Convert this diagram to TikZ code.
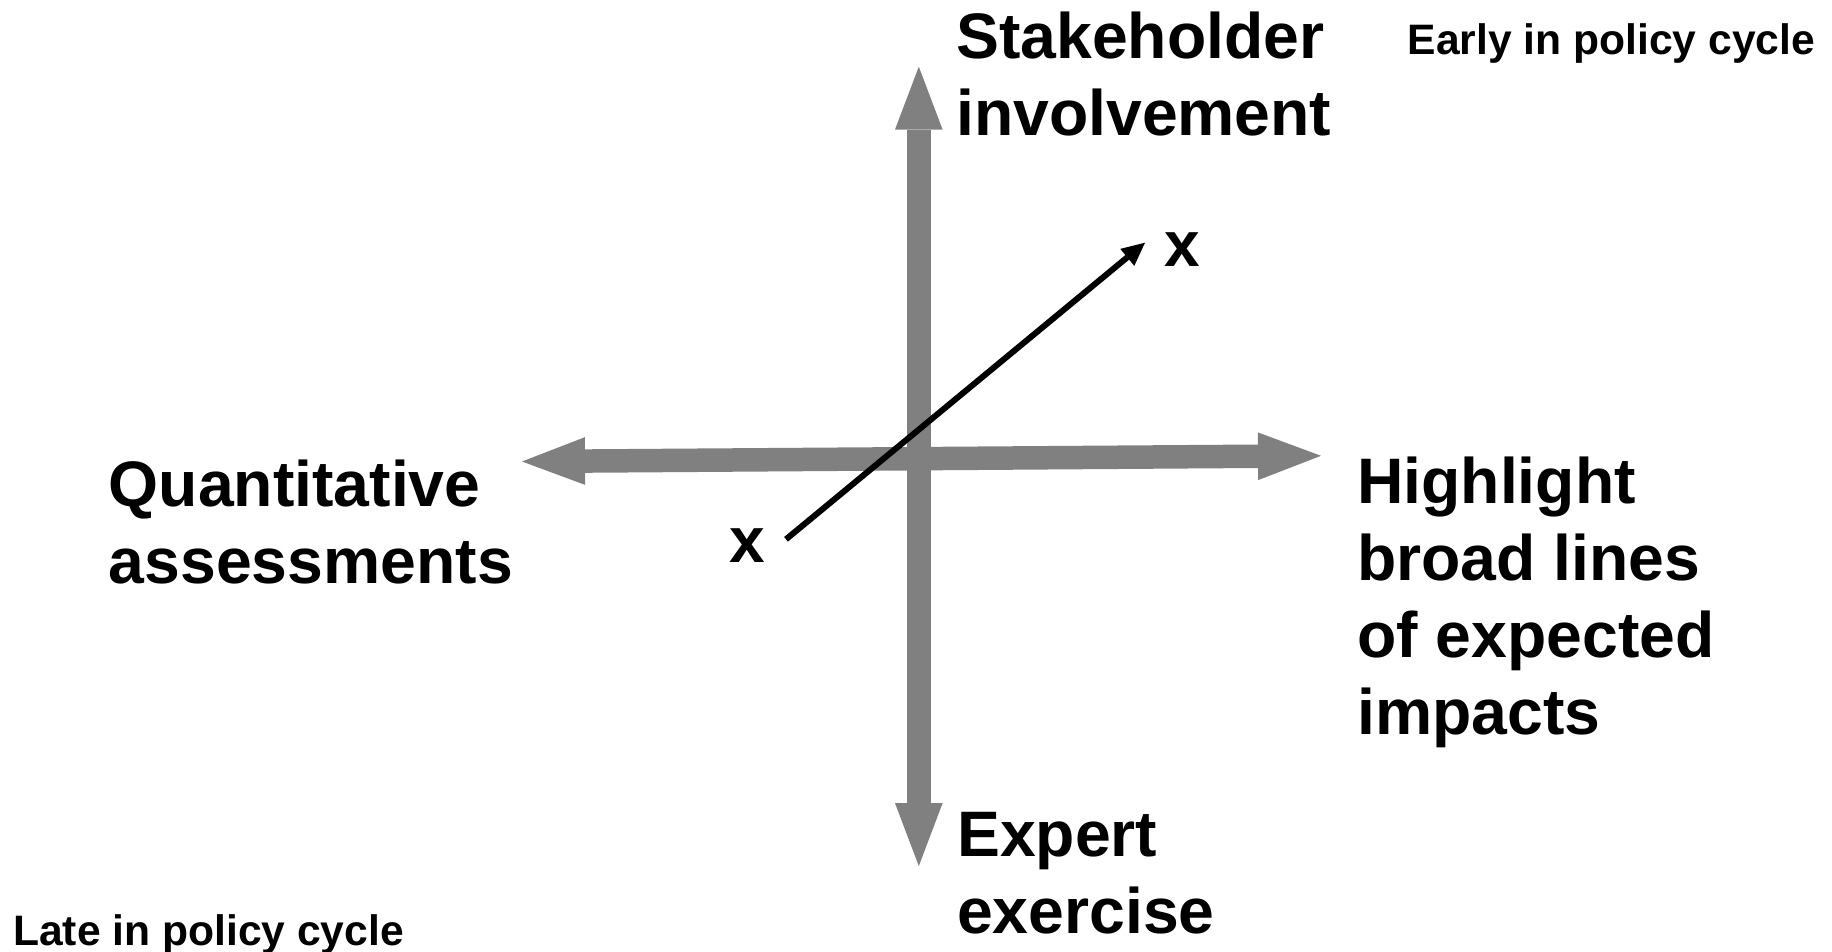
\documentclass[tikz,border=0pt]{standalone}
\usepackage{fontspec}
\setmainfont{Liberation Sans}
\usetikzlibrary{arrows.meta}
\definecolor{axisgray}{RGB}{128,128,128}
\tikzset{
  bigtext/.style={font=\bfseries\fontsize{64.3pt}{77pt}\selectfont, inner sep=0pt, align=left, anchor=base west},
  smalltext/.style={font=\bfseries\fontsize{42.6pt}{50pt}\selectfont, inner sep=0pt, anchor=base west},
  marktext/.style={font=\bfseries\fontsize{64pt}{70pt}\selectfont, inner sep=0pt, anchor=center},
  axisarrow/.style={draw=axisgray, line width=23.5pt,
    {Triangle[length=63pt,width=47.7pt,line width=0pt]}-{Triangle[length=63pt,width=47.7pt,line width=0pt]}},
  movearrow/.style={draw=black, line width=6pt, -{Triangle[length=23pt,width=22pt,line width=0pt]}}
}
\begin{document}
\begin{tikzpicture}[x=1pt,y=-1pt]
\useasboundingbox[fill=white] (0,0) rectangle (1832,952);
\clip (0,0) rectangle (1832,952);
% axis end points
\coordinate (top) at (918.8,66.7);
\coordinate (bottom) at (918.8,866);
\coordinate (left) at (522,461.5);
\coordinate (right) at (1321,455.8);
\draw[axisarrow] (bottom) -- (top);
\draw[axisarrow] (left) -- (right);
% labels (anchor = baseline of the last line)
\node[bigtext] (stake) at (956,136) {Stakeholder\\involvement};
\node[bigtext] (quant) at (108.7,583) {Quantitative\\assessments};
\node[bigtext] (high) at (1357,734) {Highlight\\broad lines\\of expected\\impacts};
\node[bigtext] (expert) at (957,933.6) {Expert\\exercise};
\node[smalltext] (early) at (1407.5,54.3) {Early in policy cycle};
\node[smalltext] (late) at (13,945) {Late in policy cycle};
% x marks and shift arrow
\node[marktext] (xup) at (1182.5,250) {x};
\node[marktext] (xlow) at (747,545.5) {x};
\coordinate (from) at (786,539.3);
\coordinate (to) at (1145,242.7);
\draw[movearrow] (from) -- (to);
\end{tikzpicture}
\end{document}
